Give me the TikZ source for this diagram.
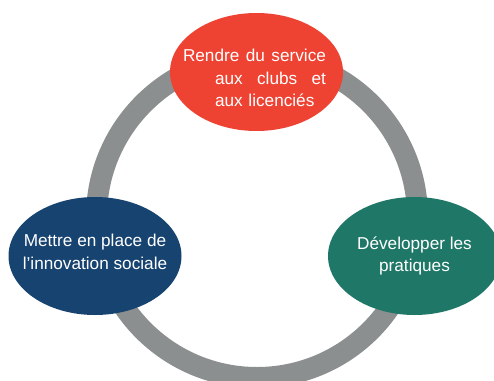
\documentclass[tikz,border=0pt]{standalone}
\usepackage{fontspec}
\setmainfont{Liberation Sans}
\usepackage{tikz}
\usetikzlibrary{shapes.geometric}
\usetikzlibrary{positioning}

\definecolor{servicered}{HTML}{EE4232}
\definecolor{socialblue}{HTML}{174371}
\definecolor{pratiquegreen}{HTML}{1F7867}
\definecolor{ringgrey}{HTML}{8C8F8F}

\begin{document}
\begin{tikzpicture}[x=1pt, y=-1pt,
    blob/.style={ellipse, minimum width=173pt, minimum height=118pt, inner sep=0pt},
    txt/.style={text=white, inner sep=0pt, font=\fontsize{17.2}{22.5}\selectfont}]
    \useasboundingbox (0,0) rectangle (494,380);
    \clip (0,0) rectangle (494,380);
    \def\rw{143pt}

    % grey ring behind the three ellipses
    \draw[ringgrey, line width=21pt] (257,217) circle[radius=160.5];

    \node[blob, fill=servicered] (service) at (256.5, 72) {};
    \node[blob, fill=socialblue] (social) at (95, 256) {};
    \node[blob, fill=pratiquegreen] (pratiques) at (414.5, 256) {};

    \node[txt, text width=\rw, align=left] (servicetxt) at (254.5, 78)
        {\makebox[\rw][l]{Rendre\hfill du\hfill service}\\
         \makebox[\rw][l]{\hspace*{32pt}aux\hfill clubs\hfill et}\\
         \makebox[\rw][l]{\hspace*{32pt}aux licenciés\hfill}};
    \node[txt, align=center] (socialtxt) at (95, 252)
        {Mettre en place de\\l’innovation sociale};
    \node[txt, align=center] (pratiquestxt) at (414.5, 256)
        {Développer les\\pratiques};
\end{tikzpicture}
\end{document}
